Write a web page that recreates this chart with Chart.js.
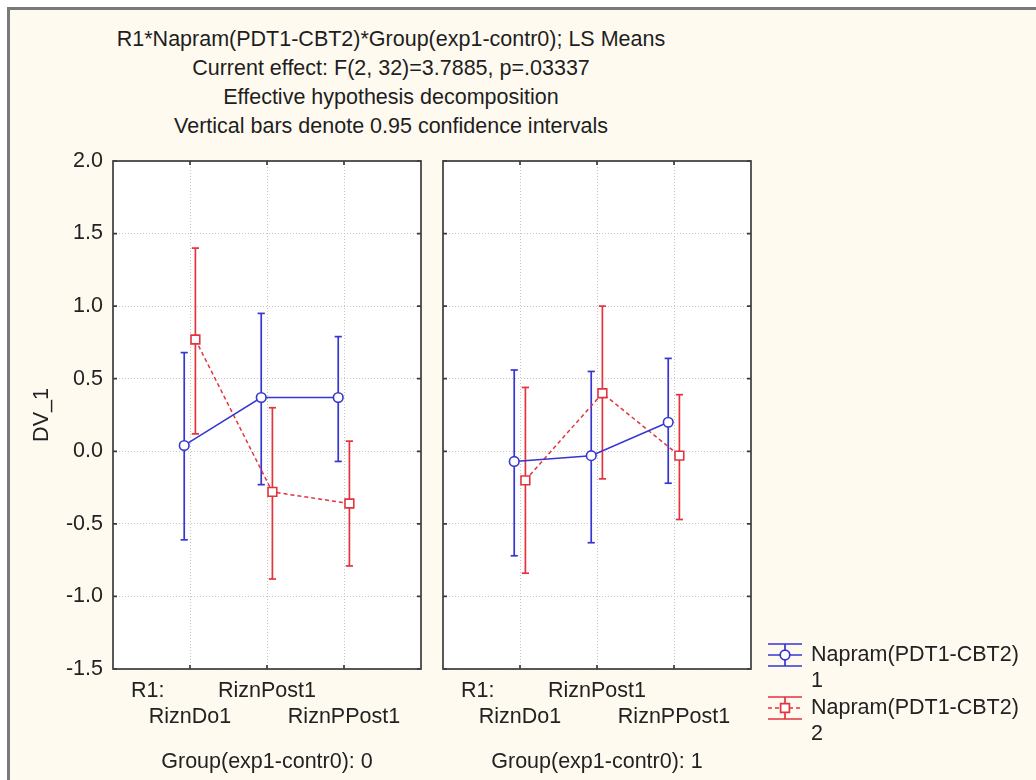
<!DOCTYPE html>
<html><head><meta charset="utf-8">
<script src="https://cdn.jsdelivr.net/npm/chart.js@4.4.0/dist/chart.umd.min.js"></script>
<style>
html,body{margin:0;padding:0;background:#fff;overflow:hidden;}
body{width:1036px;height:780px;position:relative;font-family:"Liberation Sans",Arial,sans-serif;}
#frame{position:absolute;left:7px;top:7px;width:1026px;height:770px;border-left:3px solid #7a7a7a;border-top:3px solid #7a7a7a;background:#fffaf0;}
#title{position:absolute;left:0;top:25px;width:782px;text-align:center;font-size:21.5px;line-height:29px;color:#1e1e1e;white-space:nowrap;}
.wrap{position:absolute;left:0;top:0;width:1036px;height:780px;}
canvas{position:absolute;left:0;top:0;}
</style></head>
<body>
<div id="frame"></div>
<div id="title">R1*Napram(PDT1-CBT2)*Group(exp1-contr0); LS Means<br>Current effect: F(2, 32)=3.7885, p=.03337<br>Effective hypothesis decomposition<br>Vertical bars denote 0.95 confidence intervals</div>
<div class="wrap"><canvas id="c0" width="1036" height="780"></canvas></div>
<div class="wrap"><canvas id="c1" width="1036" height="780"></canvas></div>
<script>
// ---- data ----
const categories = ['RiznDo1', 'RiznPost1', 'RiznPPost1'];
const factorLabel = 'R1:';
const groupTitles = ['Group(exp1-contr0): 0', 'Group(exp1-contr0): 1'];
const seriesName = 'Napram(PDT1-CBT2)';
const seriesLevels = ['1', '2'];
const yTicks = [-1.5, -1.0, -0.5, 0.0, 0.5, 1.0, 1.5, 2.0];
const yTitle = 'DV_1';

// Group 0
const g0_n1_mean  = [0.04, 0.37, 0.37];
const g0_n1_lower = [-0.61, -0.23, -0.07];
const g0_n1_upper = [0.68, 0.95, 0.79];
const g0_n2_mean  = [0.77, -0.28, -0.36];
const g0_n2_lower = [0.12, -0.88, -0.79];
const g0_n2_upper = [1.40, 0.30, 0.07];
// Group 1
const g1_n1_mean  = [-0.07, -0.03, 0.20];
const g1_n1_lower = [-0.72, -0.63, -0.22];
const g1_n1_upper = [0.56, 0.55, 0.64];
const g1_n2_mean  = [-0.20, 0.40, -0.03];
const g1_n2_lower = [-0.84, -0.19, -0.47];
const g1_n2_upper = [0.44, 1.00, 0.39];

// ---- styling ----
const BLUE = '#3636d2';
const RED = '#e2343e';
const FONT = {family: '"Liberation Sans", Arial, sans-serif', size: 21.5};
const TXT = '#222';
const OFF = [-0.075, 0.07];
const R1POS = 0.45;

function meanDs(mean, s) {
  return {
    type: 'line',
    data: mean.map((v, i) => ({x: i + 1 + OFF[s], y: v})),
    borderColor: s === 0 ? BLUE : RED,
    borderWidth: 1.5,
    borderDash: s === 0 ? [] : [4, 3],
    pointStyle: s === 0 ? 'circle' : 'rect',
    pointRadius: s === 0 ? 4.8 : 6.2,
    pointBorderWidth: 1.6,
    pointBackgroundColor: '#fff',
    pointBorderColor: s === 0 ? BLUE : RED,
    fill: false, tension: 0
  };
}
function errDs(lower, upper, s) {
  const pts = [];
  lower.forEach((lo, i) => {
    const x = i + 1 + OFF[s];
    pts.push({x, y: lo}, {x, y: upper[i]}, {x, y: null});
  });
  return {
    type: 'line', data: pts,
    borderColor: s === 0 ? BLUE : RED, borderWidth: 1.7,
    pointStyle: 'line', pointRadius: 3.6, pointBorderWidth: 1.7,
    pointBorderColor: s === 0 ? BLUE : RED,
    spanGaps: false, fill: false
  };
}

const framePlugin = {
  id: 'frame',
  beforeDraw(chart) {
    const {ctx, chartArea: a} = chart;
    ctx.save(); ctx.fillStyle = '#fff';
    ctx.fillRect(a.left, a.top, a.right - a.left, a.bottom - a.top);
    ctx.restore();
  },
  beforeDatasetsDraw(chart) {
    const {ctx, chartArea: a, scales} = chart;
    ctx.save(); ctx.strokeStyle = '#3c3c3c'; ctx.lineWidth = 1.7;
    ctx.strokeRect(a.left, a.top, a.right - a.left, a.bottom - a.top);
    const L = 4;
    ctx.beginPath();
    scales.y.ticks.forEach(t => {
      const y = scales.y.getPixelForValue(t.value);
      ctx.moveTo(a.left, y); ctx.lineTo(a.left + L, y);
      ctx.moveTo(a.right, y); ctx.lineTo(a.right - L, y);
    });
    scales.x.ticks.forEach(t => {
      if (!Number.isInteger(t.value)) return;
      const x = scales.x.getPixelForValue(t.value);
      ctx.moveTo(x, a.top); ctx.lineTo(x, a.top + L);
      ctx.moveTo(x, a.bottom); ctx.lineTo(x, a.bottom - L);
    });
    ctx.stroke(); ctx.restore();
  }
};

const legendPlugin = {
  id: 'customLegend',
  afterDraw(chart, args, opts) {
    if (!opts.show) return;
    const ctx = chart.ctx;
    const x0 = 768, x1 = 802, xc = (x0 + x1) / 2, tx = 811;
    const tops = [644, 697];
    seriesLevels.forEach((lvl, s) => {
      const color = s === 0 ? BLUE : RED;
      const top = tops[s], bot = top + 22, mid = (top + bot) / 2;
      ctx.save();
      ctx.strokeStyle = color; ctx.lineWidth = 1.7;
      ctx.beginPath();
      ctx.moveTo(x0, top); ctx.lineTo(x1, top);
      ctx.moveTo(x0, bot); ctx.lineTo(x1, bot);
      ctx.moveTo(xc, top); ctx.lineTo(xc, bot);
      ctx.stroke();
      ctx.setLineDash(s === 0 ? [] : [4, 3]);
      ctx.beginPath(); ctx.moveTo(x0, mid); ctx.lineTo(x1, mid); ctx.stroke();
      ctx.setLineDash([]);
      ctx.fillStyle = '#fff';
      ctx.beginPath();
      if (s === 0) ctx.arc(xc, mid, 4.8, 0, Math.PI * 2);
      else ctx.rect(xc - 4.4, mid - 4.4, 8.8, 8.8);
      ctx.fill(); ctx.stroke();
      ctx.fillStyle = TXT;
      ctx.font = '21.5px "Liberation Sans", Arial, sans-serif';
      ctx.textBaseline = 'middle'; ctx.textAlign = 'left';
      ctx.fillText(seriesName, tx, mid);
      ctx.fillText(lvl, tx, mid + 26);
      ctx.restore();
    });
  }
};

function tickLabel(v) {
  if (Math.abs(v - R1POS) < 1e-6) return [factorLabel, ''];
  const i = Math.round(v) - 1;
  if (i < 0 || i >= categories.length) return '';
  return i % 2 === 0 ? ['', categories[i]] : [categories[i], ''];
}

function makeChart(id, datasets, cfg) {
  return new Chart(document.getElementById(id), {
    data: {datasets},
    options: {
      responsive: false, animation: false, events: [],
      layout: {padding: {left: cfg.padLeft, right: cfg.padRight, top: 161, bottom: 0}},
      plugins: {legend: {display: false}, tooltip: {enabled: false}, customLegend: {show: cfg.legend}},
      scales: {
        x: {
          type: 'linear', position: 'bottom', min: 0, max: 4,
          afterBuildTicks: (sc) => { sc.ticks = [R1POS, 1, 2, 3].map(v => ({value: v})); },
          afterFit: (sc) => { sc.height = 111; },
          ticks: {autoSkip: false, maxRotation: 0, padding: 9, color: TXT,
                  font: Object.assign({lineHeight: 1.22}, FONT), callback: tickLabel},
          grid: {drawTicks: false, lineWidth: 1,
                 color: (c) => (c.tick && Number.isInteger(c.tick.value)) ? '#c4c4c4' : 'rgba(0,0,0,0)'},
          border: {display: false, dash: [1, 2]},
          title: {display: true, text: cfg.xTitle, color: TXT, font: FONT, padding: {top: 0, bottom: 5}}
        },
        y: {
          type: 'linear', position: 'left', min: yTicks[0], max: yTicks[yTicks.length - 1],
          afterBuildTicks: (sc) => { sc.ticks = yTicks.map(v => ({value: v})); },
          afterFit: (sc) => { sc.width = cfg.yWidth; },
          ticks: {display: cfg.showY, padding: 10, color: TXT, font: FONT,
                  callback: (v) => Number(v).toFixed(1)},
          grid: {drawTicks: false, color: '#c4c4c4', lineWidth: 1},
          border: {display: false, dash: [1, 2]},
          title: {display: cfg.showY, text: yTitle, color: TXT, font: FONT, padding: {top: 29, bottom: 0}}
        }
      }
    },
    plugins: [framePlugin, legendPlugin]
  });
}

makeChart('c0', [
  meanDs(g0_n1_mean, 0), meanDs(g0_n2_mean, 1),
  errDs(g0_n1_lower, g0_n1_upper, 0), errDs(g0_n2_lower, g0_n2_upper, 1)
], {padLeft: 0, padRight: 615, yWidth: 113, showY: true, xTitle: groupTitles[0], legend: false});

makeChart('c1', [
  meanDs(g1_n1_mean, 0), meanDs(g1_n2_mean, 1),
  errDs(g1_n1_lower, g1_n1_upper, 0), errDs(g1_n2_lower, g1_n2_upper, 1)
], {padLeft: 432, padRight: 285, yWidth: 11, showY: false, xTitle: groupTitles[1], legend: true});
</script>
</body></html>
